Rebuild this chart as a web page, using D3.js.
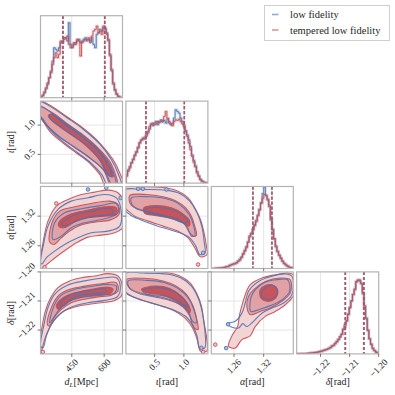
<!DOCTYPE html>
<html><head><meta charset="utf-8">
<script src="https://cdn.jsdelivr.net/npm/d3@7"></script>
<style>body{margin:0;background:#fff}svg{display:block}text{font-family:"Liberation Serif","DejaVu Serif",serif;fill:#262626}</style>
</head><body><svg id="c" width="395" height="395"></svg>
<script>
// ---------------- data ----------------
const dLDomain = [305, 685], iotaDomain = [0.01, 1.41], alphaDomain = [1.214, 1.380], deltaDomain = [-1.2282, -1.2000];
const dLTicks = [450, 600], iotaTicks = [0.5, 1.0], alphaTicks = [1.26, 1.32], deltaTicks = [-1.22, -1.21, -1.20];
const dLTickLabels = ["450", "600"], iotaTickLabels = ["0.5", "1.0"], alphaTickLabels = ["1.26", "1.32"], deltaTickLabels = ["\u22121.22", "\u22121.21", "\u22121.20"];
const histTop = 246;
const dLBlue = [2,6,14,26,40,60,75,110,150,145,140,150,165,170,175,180,170,225,160,150,160,165,170,175,165,170,175,180,170,175,165,180,160,150,190,195,205,200,210,205,195,170,130,80,45,22,10,4,1,0];
const dLRed = [2,8,18,30,45,60,80,100,120,135,120,130,170,165,180,178,185,160,150,155,165,160,175,170,125,165,170,175,175,180,170,185,200,205,215,195,200,190,215,210,190,175,125,85,40,25,12,5,2,0];
const iotaBlue = [25,40,50,60,70,82,95,105,120,130,135,132,140,155,162,178,172,180,185,175,185,190,183,188,180,192,185,175,180,195,220,215,210,195,185,170,158,145,130,110,85,68,52,35,22,12,6,3,1,0];
const iotaRed = [20,35,45,62,72,85,92,108,122,128,132,138,145,150,170,175,180,175,178,185,182,185,188,200,215,195,180,178,172,185,190,188,192,185,178,175,155,140,120,100,80,62,48,30,20,10,6,3,2,1];
const alphaBlue = [0,0,0,1,1,1,2,3,4,5,7,9,12,13,15,18,22,28,35,42,55,66,80,95,106,115,128,145,160,178,198,225,244,220,205,185,145,118,90,68,52,40,30,22,16,11,7,4,3,2];
const alphaRed = [0,0,1,1,1,2,2,2,4,6,6,10,11,14,14,17,22,25,33,45,52,62,78,98,104,118,132,140,158,175,195,210,222,218,208,190,150,115,88,65,50,40,32,22,15,11,8,5,3,2];
const deltaBlue = [0,0,0,1,1,1,1,2,2,3,3,4,5,6,7,9,10,12,14,16,19,22,26,30,37,44,50,60,72,88,100,120,140,160,178,195,218,220,222,210,180,140,108,70,45,28,16,10,5,2];
const deltaRed = [1,0,1,1,1,1,2,2,3,3,4,5,5,6,8,8,11,12,13,16,18,24,25,32,36,42,52,58,75,82,98,118,138,158,178,192,215,222,218,212,185,145,105,72,45,30,17,10,6,3];
const dLQBlue = [408, 602], dLQRed = [410, 604];
const iotaQBlue = [0.35, 1.01], iotaQRed = [0.355, 1.005];
const alphaQBlue = [1.2985, 1.3370], alphaQRed = [1.2980, 1.3365];
const deltaQBlue = [-1.2114, -1.2050], deltaQRed = [-1.2116, -1.2052];

// contours [outer, middle, inner] as [x, y] in data units
const iotaDLRed = [
 [[295,1.42],[349,1.339],[426,1.146],[503,0.946],[581,0.690],[642,0.406],[673,0.178],[690,-0.05],[609,-0.05],[581,0.150],[534,0.349],[473,0.520],[411,0.690],[349,0.89],[310,1.117],[295,1.20]],
 [[300,1.31],[364,1.202],[426,1.032],[503,0.833],[581,0.577],[635,0.320],[661,-0.05],[635,-0.05],[596,0.235],[534,0.434],[457,0.633],[380,0.833],[318,1.060],[300,1.18]],
 [[341,1.157],[352,1.19],[426,1.003],[503,0.804],[581,0.548],[627,0.292],[642,0.121],[619,0.150],[573,0.434],[503,0.690],[426,0.890],[357,1.077]]];
const iotaDLBlue = [
 [[300,1.40],[349,1.32],[426,1.13],[503,0.93],[581,0.67],[635,0.40],[665,0.17],[680,-0.05],[620,-0.05],[590,0.15],[540,0.35],[480,0.52],[415,0.70],[355,0.90],[315,1.11],[300,1.18]],
 [[300,1.33],[364,1.19],[426,1.02],[503,0.82],[580,0.56],[630,0.31],[655,-0.05],[640,-0.05],[600,0.23],[534,0.44],[457,0.64],[380,0.84],[318,1.07],[300,1.16]],
 [[345,1.15],[355,1.19],[426,0.99],[503,0.79],[575,0.54],[620,0.30],[635,0.12],[622,0.14],[575,0.43],[503,0.70],[426,0.90],[360,1.08]]];
const alphaDLRed = [
 [[301,1.2154],[316.6,1.266],[339.7,1.3099],[378.4,1.3403],[432.4,1.3538],[494.2,1.3639],[556,1.3686],[617.8,1.3727],[664.1,1.3673],[692,1.347],[692,1.2998],[648.7,1.2863],[587,1.2815],[525.1,1.2775],[471,1.266],[424.7,1.2525],[378.4,1.2377],[339.7,1.2242],[308.8,1.2134]],
 [[347.5,1.2674],[358.3,1.3065],[393.8,1.3301],[463.3,1.3389],[540.6,1.3457],[625.5,1.3504],[664.1,1.3436],[668.8,1.3234],[625.5,1.3119],[556,1.3079],[486.5,1.3011],[440.1,1.2896],[401.5,1.2761],[367.5,1.2626]],
 [[393.8,1.3099],[440.1,1.3234],[525.1,1.3322],[602.3,1.339],[656.4,1.3369],[656.4,1.3234],[602.3,1.32],[525.1,1.3166],[463.3,1.3079],[417,1.2964],[389.2,1.2998]]];
const alphaDLBlue = [
 [[306,1.2250],[320,1.265],[339.7,1.2998],[386.1,1.3335],[447.9,1.3504],[525.1,1.3571],[602.3,1.3639],[656.4,1.3571],[676.5,1.3369],[671.9,1.2998],[617.8,1.2896],[540.6,1.2863],[478.7,1.2761],[417,1.2626],[370.6,1.2491],[332,1.2356],[312,1.2230]],
 [[362.9,1.2728],[370.6,1.3065],[417,1.3268],[494.2,1.3349],[586.9,1.3416],[656.4,1.3457],[664.1,1.3268],[602.3,1.3146],[509.7,1.3065],[447.9,1.2964],[401.5,1.2795]],
 [[401.5,1.3031],[447.9,1.32],[540.6,1.3301],[633.2,1.3349],[641,1.3254],[556,1.32],[478.7,1.3119],[424.7,1.3011]]];
const alphaIotaRed = [
 [[-0.04,1.3774],[0.3036,1.3794],[0.645,1.378],[0.901,1.3706],[1.0718,1.3571],[1.1856,1.3369],[1.2823,1.3133],[1.345,1.2863],[1.3848,1.2593],[1.3961,1.2424],[1.2823,1.2377],[1.1856,1.2559],[1.0718,1.2761],[0.901,1.2896],[0.645,1.2998],[0.3889,1.3099],[0.1613,1.32],[0.019,1.3335],[-0.04,1.3403]],
 [[0.076,1.3619],[0.3605,1.3639],[0.645,1.3592],[0.8726,1.3504],[1.0319,1.3369],[1.1286,1.32],[1.1856,1.2998],[1.2140,1.2809],[1.1286,1.2795],[1.0547,1.2984],[0.9181,1.3133],[0.7019,1.32],[0.474,1.3268],[0.2467,1.3335],[0.104,1.3416],[0.0646,1.3524]],
 [[0.315,1.3369],[0.531,1.3416],[0.7873,1.3369],[0.975,1.3254],[1.1002,1.3099],[1.0888,1.2998],[0.958,1.3078],[0.7304,1.3166],[0.5027,1.3214],[0.332,1.3254]]];
const alphaIotaBlue = [
 [[-0.0093,1.3727],[0.3036,1.374],[0.7019,1.3727],[0.9295,1.3659],[1.1002,1.3504],[1.2254,1.3268],[1.305,1.2998],[1.3449,1.2694],[1.3563,1.2444],[1.2709,1.2424],[1.2026,1.2593],[1.1002,1.2761],[0.9295,1.2863],[0.7019,1.2944],[0.474,1.3031],[0.2467,1.3133],[0.076,1.3234],[-0.0093,1.3335]],
 [[0.1045,1.3571],[0.4174,1.3592],[0.7019,1.3551],[0.9295,1.3436],[1.0888,1.3234],[1.1685,1.2998],[1.1856,1.2795],[1.1002,1.2863],[1.0149,1.3031],[0.8726,1.3146],[0.645,1.3214],[0.4174,1.3281],[0.1898,1.3349],[0.1045,1.3457]],
 [[0.3605,1.3349],[0.645,1.3369],[0.901,1.3281],[1.0718,1.3099],[1.0149,1.3065],[0.7588,1.3166],[0.5027,1.3234],[0.3605,1.3268]]];
const deltaDLRed = [
 [[293.4,-1.2272],[308.9,-1.2203],[327.4,-1.2135],[352.1,-1.2089],[386.1,-1.2054],[440.2,-1.2031],[494.2,-1.2020],[556,-1.2014],[617.8,-1.2006],[664.1,-1.2014],[682.7,-1.2043],[679.6,-1.2083],[648.7,-1.2098],[586.9,-1.2106],[525.1,-1.2112],[463.3,-1.2121],[409.3,-1.2137],[370.6,-1.2163],[342.8,-1.2198],[324.3,-1.2232],[312,-1.2267],[301.1,-1.2290]],
 [[336.7,-1.2181],[355.2,-1.2123],[386.1,-1.2083],[440.2,-1.2060],[509.7,-1.2049],[586.9,-1.2041],[656.4,-1.2037],[664.1,-1.2066],[633.2,-1.2080],[571.4,-1.2086],[509.7,-1.2094],[447.9,-1.2106],[401.5,-1.2129],[367.5,-1.2158],[347.5,-1.2186]],
 [[378.4,-1.2117],[409.3,-1.2089],[463.3,-1.2072],[540.6,-1.2060],[617.8,-1.2052],[641,-1.2060],[625.5,-1.2075],[556,-1.2080],[478.7,-1.2089],[424.7,-1.2106],[389.2,-1.2129]]];
const deltaDLBlue = [
 [[305.8,-1.2255],[321.2,-1.2181],[339.7,-1.2123],[370.6,-1.2077],[432.4,-1.2045],[509.7,-1.2031],[586.9,-1.2022],[656.4,-1.2020],[673.4,-1.2043],[664.1,-1.2083],[602.3,-1.2098],[525.1,-1.2106],[447.9,-1.2121],[393.8,-1.2146],[355.2,-1.2181],[332,-1.2221],[316.6,-1.2261]],
 [[347.5,-1.2175],[367.5,-1.2117],[401.5,-1.2080],[463.3,-1.2060],[540.6,-1.2050],[617.8,-1.2043],[656.4,-1.2049],[648.7,-1.2072],[586.9,-1.2080],[509.7,-1.2086],[447.9,-1.2098],[401.5,-1.2121],[370.6,-1.2152]],
 [[393.8,-1.2112],[440.2,-1.2080],[525.1,-1.2066],[602.3,-1.2058],[610,-1.2068],[540.6,-1.2075],[463.3,-1.2086],[409.3,-1.2117]]];
const deltaIotaRed = [
 [[-0.05,-1.1995],[0.3036,-1.1997],[0.7019,-1.2002],[0.9295,-1.2014],[1.1002,-1.2037],[1.214,-1.2072],[1.2993,-1.2117],[1.3392,-1.2169],[1.3847,-1.2221],[1.396,-1.2272],[1.2823,-1.2272],[1.2254,-1.2232],[1.1457,-1.2192],[1.0149,-1.2158],[0.8157,-1.2132],[0.5597,-1.2114],[0.3036,-1.2098],[0.1045,-1.2083],[-0.0093,-1.2068],[-0.066,-1.2060]],
 [[0.019,-1.2026],[0.3036,-1.2022],[0.645,-1.2031],[0.8726,-1.2049],[1.0433,-1.2077],[1.1571,-1.2117],[1.214,-1.2158],[1.2425,-1.2198],[1.1685,-1.2192],[1.1002,-1.2152],[0.9864,-1.2121],[0.8157,-1.2100],[0.5881,-1.2086],[0.3036,-1.2075],[0.1045,-1.2060],[0.0305,-1.2043]],
 [[0.275,-1.2060],[0.4997,-1.2049],[0.7588,-1.2057],[0.9579,-1.2083],[1.1002,-1.2123],[1.1002,-1.2140],[0.9864,-1.2117],[0.8157,-1.2095],[0.5881,-1.2077],[0.3605,-1.2072]]];
const deltaIotaBlue = [
 [[-0.0093,-1.2006],[0.3036,-1.2004],[0.7303,-1.2008],[0.958,-1.2022],[1.1286,-1.2049],[1.2425,-1.2089],[1.3164,-1.2140],[1.3563,-1.2198],[1.3563,-1.2261],[1.2709,-1.2261],[1.2254,-1.2221],[1.1571,-1.2186],[1.0433,-1.2155],[0.8726,-1.2135],[0.6165,-1.2117],[0.3605,-1.2102],[0.1329,-1.2086],[0.0077,-1.2071]],
 [[0.0476,-1.2031],[0.3605,-1.2029],[0.6735,-1.2037],[0.901,-1.2057],[1.0718,-1.2089],[1.1685,-1.2129],[1.214,-1.2175],[1.1457,-1.2169],[1.0718,-1.2135],[0.9409,-1.2112],[0.7588,-1.2098],[0.5027,-1.2086],[0.2467,-1.2075],[0.076,-1.2057]],
 [[0.3036,-1.2064],[0.531,-1.2054],[0.7873,-1.2064],[0.9864,-1.2091],[1.0718,-1.2121],[0.9864,-1.2112],[0.8157,-1.2091],[0.5881,-1.2080],[0.3605,-1.2077]]];
const deltaAlphaRed = [
 [[1.2928,-1.2044],[1.3164,-1.2021],[1.3434,-1.2010],[1.3704,-1.2004],[1.3839,-1.2015],[1.3819,-1.2078],[1.3637,-1.2113],[1.3434,-1.2136],[1.3232,-1.2153],[1.3029,-1.2188],[1.2928,-1.2220],[1.2759,-1.2233],[1.2624,-1.2262],[1.2489,-1.2256],[1.2557,-1.2220],[1.2671,-1.2188],[1.2712,-1.2147],[1.2793,-1.2096],[1.2860,-1.2064]],
 [[1.2995,-1.2061],[1.3232,-1.2033],[1.3535,-1.2021],[1.3738,-1.2027],[1.3738,-1.2073],[1.3569,-1.2101],[1.3333,-1.2124],[1.3130,-1.2136],[1.2928,-1.2147],[1.2860,-1.2119],[1.2894,-1.2084]],
 [[1.3130,-1.2061],[1.3232,-1.2047],[1.3367,-1.2044],[1.3468,-1.2056],[1.3481,-1.2078],[1.3400,-1.2096],[1.3265,-1.2101],[1.3144,-1.2090]]];
const deltaAlphaBlue = [
 [[1.2894,-1.2067],[1.3097,-1.2033],[1.3367,-1.2015],[1.3637,-1.2007],[1.3772,-1.2015],[1.3772,-1.2078],[1.3603,-1.2107],[1.3367,-1.2124],[1.3164,-1.2142],[1.2995,-1.2170],[1.2860,-1.2188],[1.2779,-1.2178],[1.2692,-1.2193],[1.2557,-1.2190],[1.2455,-1.2178],[1.2624,-1.2170],[1.2759,-1.2142],[1.2827,-1.2107]],
 [[1.2982,-1.2073],[1.3198,-1.2038],[1.3468,-1.2027],[1.3684,-1.2027],[1.3724,-1.2067],[1.3569,-1.2096],[1.3333,-1.2116],[1.3097,-1.2130],[1.2941,-1.2136],[1.2928,-1.2101]],
 [[1.3164,-1.2067],[1.3265,-1.2050],[1.3400,-1.2047],[1.3481,-1.2061],[1.3454,-1.2082],[1.3346,-1.2093],[1.3232,-1.2093],[1.3150,-1.2082]]];
// isolated samples outside the outer contour
const alphaDLDotsBlue = [[525,1.374],[610,1.3774],[676,1.357]], alphaDLDotsRed = [[378,1.3457],[324,1.2167]];
const alphaIotaDotsBlue = [[0.218,1.3754],[0.30,1.3754],[0.702,1.374],[1.328,1.2458]], alphaIotaDotsRed = [[1.242,1.222]];
const deltaDLDotsBlue = [[306,-1.2275]], deltaDLDotsRed = [[316,-1.2275]];
const deltaIotaDotsBlue = [[1.299,-1.2261]], deltaIotaDotsRed = [[1.33,-1.2275]];
const deltaAlphaDotsBlue = [[1.244,-1.2262],[1.248,-1.2180]], deltaAlphaDotsRed = [[1.222,-1.2250]];
const legendLabels = ["low fidelity", "tempered low fidelity"];

// ---------------- drawing ----------------
const BLUE = "#4c72b0", RED = "#c44e52";
const FILLS = ["#f3d4d5", "#e2a2a5", "#c6545a"];
const svg = d3.select("#c");
const S = 82, STEP = 85.4, X0 = 40.5, Y0 = 15.7;
const colX = j => X0 + j * STEP, rowY = i => Y0 + i * STEP;
const domains = [dLDomain, iotaDomain, alphaDomain, deltaDomain];
const ticks = [dLTicks, iotaTicks, alphaTicks, deltaTicks];
const tickLabels = [dLTickLabels, iotaTickLabels, alphaTickLabels, deltaTickLabels];
const hists = [[dLBlue, dLRed], [iotaBlue, iotaRed], [alphaBlue, alphaRed], [deltaBlue, deltaRed]];
const quants = [[dLQBlue, dLQRed], [iotaQBlue, iotaQRed], [alphaQBlue, alphaQRed], [deltaQBlue, deltaQRed]];
const contours = {"1,0": [iotaDLBlue, iotaDLRed], "2,0": [alphaDLBlue, alphaDLRed], "2,1": [alphaIotaBlue, alphaIotaRed],
  "3,0": [deltaDLBlue, deltaDLRed], "3,1": [deltaIotaBlue, deltaIotaRed], "3,2": [deltaAlphaBlue, deltaAlphaRed]};
const dots = {"2,0": [alphaDLDotsBlue, alphaDLDotsRed], "2,1": [alphaIotaDotsBlue, alphaIotaDotsRed],
  "3,0": [deltaDLDotsBlue, deltaDLDotsRed], "3,1": [deltaIotaDotsBlue, deltaIotaDotsRed], "3,2": [deltaAlphaDotsBlue, deltaAlphaDotsRed]};
const xs = domains.map((d, j) => d3.scaleLinear(d, [colX(j), colX(j) + S]));
const ys = domains.map((d, i) => d3.scaleLinear(d, [rowY(i) + S, rowY(i)]));
const defs = svg.append("defs");

for (let i = 0; i < 4; i++) {
  for (let j = 0; j <= i; j++) {
    const px = colX(j), py = rowY(i);
    const id = `clip${i}${j}`;
    defs.append("clipPath").attr("id", id).append("rect").attr("x", px).attr("y", py).attr("width", S).attr("height", S);
    const g = svg.append("g");
    const inner = g.append("g").attr("clip-path", `url(#${id})`);
    // grid
    ticks[j].forEach(t => inner.append("line").attr("x1", xs[j](t)).attr("x2", xs[j](t)).attr("y1", py).attr("y2", py + S)
      .attr("stroke", "#e3e3e3").attr("stroke-width", 0.9));
    if (i !== j) ticks[i].forEach(t => inner.append("line").attr("y1", ys[i](t)).attr("y2", ys[i](t)).attr("x1", px).attr("x2", px + S)
      .attr("stroke", "#e3e3e3").attr("stroke-width", 0.9));
    if (i === j) {
      const dom = domains[j];
      const edges = d3.range(51).map(k => dom[0] + k * (dom[1] - dom[0]) / 50);
      const yh = d3.scaleLinear([0, histTop], [py + S, py]);
      const line = d3.line().x(d => xs[j](d[0])).y(d => yh(d[1]));
      hists[j].forEach((vals, s) => {
        const pts = [[edges[0], 0]];
        vals.forEach((v, k) => { pts.push([edges[k], v]); pts.push([edges[k + 1], v]); });
        pts.push([edges[50], 0]);
        const col = s === 0 ? BLUE : RED;
        inner.append("path").attr("d", line(pts)).attr("fill", "none").attr("stroke", col).attr("stroke-width", 2.6).attr("stroke-opacity", 0.28);
        inner.append("path").attr("d", line(pts)).attr("fill", "none").attr("stroke", col).attr("stroke-width", 1).attr("stroke-opacity", 0.85);
      });
      quants[j].forEach((q, s) => q.forEach(v => inner.append("line").attr("x1", xs[j](v)).attr("x2", xs[j](v)).attr("y1", py).attr("y2", py + S)
        .attr("stroke", s === 0 ? BLUE : RED).attr("stroke-width", 1.3).attr("stroke-dasharray", "3.2,1.8")));
    } else {
      const key = `${i},${j}`;
      const [blue, red] = contours[key];
      const line = d3.line().x(d => xs[j](d[0])).y(d => ys[i](d[1])).curve(d3.curveCatmullRomClosed.alpha(0.5));
      red.forEach((poly, k) => inner.append("path").attr("d", line(poly)).attr("fill", FILLS[k]).attr("stroke", "none"));
      red.forEach(poly => inner.append("path").attr("d", line(poly)).attr("fill", "none").attr("stroke", RED).attr("stroke-width", 1.1).attr("stroke-opacity", 0.9));
      blue.forEach(poly => inner.append("path").attr("d", line(poly)).attr("fill", "none").attr("stroke", BLUE).attr("stroke-width", 1.1).attr("stroke-opacity", 0.9));
      if (dots[key]) dots[key].forEach((arr, s) => arr.forEach(d => inner.append("circle").attr("cx", xs[j](d[0])).attr("cy", ys[i](d[1])).attr("r", 1.8)
        .attr("fill", s === 0 ? "#aebfdc" : "#f0c4c6").attr("stroke", s === 0 ? BLUE : RED).attr("stroke-width", 0.9)));
    }
    // frame
    g.append("rect").attr("x", px).attr("y", py).attr("width", S).attr("height", S).attr("fill", "none").attr("stroke", "#b3b3b3").attr("stroke-width", 1.2);
    // tick marks
    ticks[j].forEach(t => g.append("line").attr("x1", xs[j](t)).attr("x2", xs[j](t)).attr("y1", py + S).attr("y2", py + S + 3).attr("stroke", "#555").attr("stroke-width", 0.8));
    if (i !== j) ticks[i].forEach(t => g.append("line").attr("y1", ys[i](t)).attr("y2", ys[i](t)).attr("x1", px).attr("x2", px - 3).attr("stroke", "#555").attr("stroke-width", 0.8));
  }
}

// tick labels
function rotLabel(x, y, txt, dir) {
  const t = svg.append("text").attr("font-size", 9.2).attr("text-anchor", "middle").attr("dominant-baseline", "central").text(txt);
  const w = t.node().getComputedTextLength(), h = 6.5;
  const r = (w + h) / (2 * Math.SQRT2);
  const cx = dir === "b" ? x : x - 4.5 - r;
  const cy = dir === "b" ? y + 4.5 + r : y;
  t.attr("transform", `translate(${cx},${cy}) rotate(-45)`);
}
for (let j = 0; j < 4; j++) ticks[j].forEach((t, k) => rotLabel(xs[j](t), rowY(3) + S, tickLabels[j][k], "b"));
for (let i = 1; i < 4; i++) ticks[i].forEach((t, k) => rotLabel(colX(0), ys[i](t), tickLabels[i][k], "l"));

// axis labels
function axisLabel(sel, sym, sub) {
  sel.append("tspan").attr("font-style", "italic").text(sym);
  if (sub) sel.append("tspan").attr("font-style", "italic").attr("font-size", 7).attr("dy", 2).text(sub);
  sel.append("tspan").attr("dy", sub ? -2 : 0).text(sub ? "[Mpc]" : "[rad]");
}
const syms = [["d", "L"], ["\u03b9", null], ["\u03b1", null], ["\u03b4", null]];
for (let j = 0; j < 4; j++) {
  const t = svg.append("text").attr("x", colX(j) + S / 2).attr("y", 385).attr("text-anchor", "middle").attr("font-size", 10);
  axisLabel(t, syms[j][0], syms[j][1]);
}
for (let i = 1; i < 4; i++) {
  const t = svg.append("text").attr("transform", `translate(14,${rowY(i) + S / 2}) rotate(-90)`).attr("text-anchor", "middle").attr("font-size", 10);
  axisLabel(t, syms[i][0], syms[i][1]);
}

// legend
const lg = svg.append("g");
lg.append("rect").attr("x", 264.5).attr("y", 5.5).attr("width", 125).attr("height", 35).attr("fill", "#fff").attr("stroke", "#cfcfcf").attr("stroke-width", 1);
legendLabels.forEach((lab, k) => {
  const yy = 14.5 + k * 15.5;
  lg.append("line").attr("x1", 272).attr("x2", 278.5).attr("y1", yy).attr("y2", yy).attr("stroke", k === 0 ? BLUE : RED).attr("stroke-width", 1.6).attr("stroke-opacity", 0.6);
  lg.append("text").attr("x", 290).attr("y", yy).attr("dominant-baseline", "central").attr("font-size", 10.5).text(lab);
});
</script></body></html>
